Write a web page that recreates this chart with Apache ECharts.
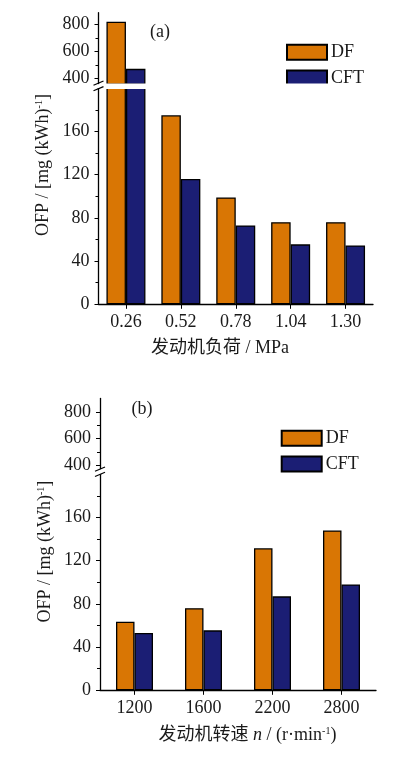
<!DOCTYPE html>
<html><head><meta charset="utf-8">
<script src="https://cdn.jsdelivr.net/npm/echarts@6/dist/echarts.min.js"></script>
<style>html,body{margin:0;padding:0;background:#fff}#c{width:396px;height:761px}</style>
</head><body><div id="c"></div>
<script>
// ---- data ----
const loadCats = ['0.26', '0.52', '0.78', '1.04', '1.30'];
const dfLoad = [818, 175, 99, 76, 76];
const cftLoad = [472, 116, 73, 55.5, 54.5];
const speedCats = ['1200', '1600', '2200', '2800'];
const dfSpeed = [63.5, 76, 131.5, 148];
const cftSpeed = [53, 55.5, 87, 98];
const upperLabels = [400, 600, 800];
const upperMinor = [500, 700];
const lowerLabels = [0, 40, 80, 120, 160];
const lowerMinor = [20, 60, 100, 140, 180];

const FONT = '"Liberation Serif","Times New Roman","Noto Sans CJK SC",serif';
const TXT = '#1a1a1a';
const ORANGE = '#D97604';
const NAVY = '#1B1E74';

const chart = echarts.init(document.getElementById('c'), null, {renderer: 'canvas'});

function majorY(grid, min, max, labels) {
  return {
    type: 'value', gridIndex: grid, min: min, max: max, position: 'left',
    splitLine: {show: false},
    axisLine: {show: true, lineStyle: {color: '#000', width: 1.3}},
    axisTick: {show: true, length: 4, inside: false, customValues: labels, lineStyle: {color: '#000', width: 1}},
    axisLabel: {show: true, margin: 9, customValues: labels, color: TXT, fontSize: 18, fontFamily: FONT}
  };
}
function minorY(grid, min, max, ticks) {
  return {
    type: 'value', gridIndex: grid, min: min, max: max, position: 'left', offset: 0,
    splitLine: {show: false},
    axisLine: {show: false},
    axisTick: {show: true, length: 3, inside: false, customValues: ticks, lineStyle: {color: '#000', width: 1}},
    axisLabel: {show: false}
  };
}
function catX(grid, cats, visible) {
  return {
    type: 'category', gridIndex: grid, data: cats, show: visible,
    axisLine: {show: true, onZero: false, lineStyle: {color: '#000', width: 1.3}},
    axisTick: {show: true, alignWithLabel: true, length: 4.5, lineStyle: {color: '#000', width: 1}},
    axisLabel: {margin: 9, color: TXT, fontSize: 18, fontFamily: FONT},
    splitLine: {show: false}
  };
}
function bar(name, data, xi, yi, color, w) {
  return {
    type: 'bar', name: name, data: data, xAxisIndex: xi, yAxisIndex: yi,
    barWidth: w, barGap: '0%', clip: true,
    itemStyle: {color: color, borderColor: '#000', borderWidth: 1.3},
    emphasis: {disabled: true}, animation: false
  };
}
function legend(left, top) {
  return {
    orient: 'vertical', left: left, top: top, data: ['DF', 'CFT'],
    icon: 'rect', itemWidth: 40, itemHeight: 15, itemGap: 7.7, selectedMode: false,
    padding: 0,
    textStyle: {color: TXT, fontSize: 18, fontFamily: FONT, lineHeight: 15, padding: [0, 0, 0, -1]}
  };
}

const richBase = {
  a: {fontSize: 18, fontFamily: FONT, fill: TXT, color: TXT},
  i: {fontSize: 18, fontFamily: FONT, fontStyle: 'italic', fill: TXT, color: TXT},
  s: {fontSize: 10, fontFamily: FONT, fill: TXT, color: TXT, verticalAlign: 'top'}
};
function txt(x, y, text, rot) {
  return {
    type: 'text', x: x, y: y, rotation: rot || 0, z: 100,
    style: {text: text, rich: richBase, align: 'center', verticalAlign: 'middle',
      textAlign: 'center', textVerticalAlign: 'middle', font: '18px ' + FONT, fill: TXT}
  };
}
function line(x1, y1, x2, y2) {
  return {type: 'line', z: 101, shape: {x1: x1, y1: y1, x2: x2, y2: y2}, style: {stroke: '#000', lineWidth: 1.2}};
}

chart.setOption({
  animation: false,
  backgroundColor: '#fff',
  grid: [
    {left: 98.5, top: 12.7, width: 274.5, height: 71.4, containLabel: false, outerBoundsMode: 'none'},
    {left: 98.5, top: 88.3, width: 274.5, height: 216, containLabel: false, outerBoundsMode: 'none'},
    {left: 100, top: 398.5, width: 276, height: 70.5, containLabel: false, outerBoundsMode: 'none'},
    {left: 100, top: 474.3, width: 276, height: 216, containLabel: false, outerBoundsMode: 'none'}
  ],
  xAxis: [
    catX(0, loadCats, false),
    catX(1, loadCats, true),
    catX(2, speedCats, false),
    catX(3, speedCats, true)
  ],
  yAxis: [
    majorY(0, 360, 885, upperLabels),
    minorY(0, 360, 885, upperMinor),
    majorY(1, 0, 200, lowerLabels),
    minorY(1, 0, 200, lowerMinor),
    majorY(2, 370, 905, upperLabels),
    minorY(2, 370, 905, upperMinor),
    majorY(3, 0, 200, lowerLabels),
    minorY(3, 0, 200, lowerMinor)
  ],
  legend: [legend(286, 43.3), legend(280.7, 429.3)],
  series: [
    bar('DF', dfLoad, 0, 0, ORANGE, 19.5),
    bar('CFT', cftLoad, 0, 0, NAVY, 19.5),
    bar('DF', dfLoad, 1, 2, ORANGE, 19.5),
    bar('CFT', cftLoad, 1, 2, NAVY, 19.5),
    bar('DF', dfSpeed, 2, 4, ORANGE, 18.5),
    bar('CFT', cftSpeed, 2, 4, NAVY, 18.5),
    bar('DF', dfSpeed, 3, 6, ORANGE, 18.5),
    bar('CFT', cftSpeed, 3, 6, NAVY, 18.5)
  ],
  graphic: [
    {type: 'rect', z: 99, shape: {x: 100, y: 83.4, width: 272, height: 5.6}, style: {fill: '#fff'}},
    {type: 'rect', z: 99, shape: {x: 95, y: 84.2, width: 7, height: 4}, style: {fill: '#fff'}},
    line(93.5, 85.2, 103.5, 81),
    line(93.5, 90.8, 103.5, 86.6),
    {type: 'rect', z: 99, shape: {x: 96, y: 469.2, width: 7, height: 5}, style: {fill: '#fff'}},
    line(95, 471.2, 105, 467),
    line(95, 476.5, 105, 472.3),
    txt(160, 32, '(a)'),
    txt(142, 409, '(b)'),
    txt(43.5, 165, '{a|OFP / [mg (kWh)}{s|-1}{a|]}', Math.PI / 2),
    txt(45, 551.7, '{a|OFP / [mg (kWh)}{s|-1}{a|]}', Math.PI / 2),
    txt(220, 348, '{a|发动机负荷 / MPa}'),
    txt(247.5, 735, '{a|发动机转速 }{i|n}{a| / (r·min}{s|-1}{a|)}')
  ]
});
</script></body></html>
